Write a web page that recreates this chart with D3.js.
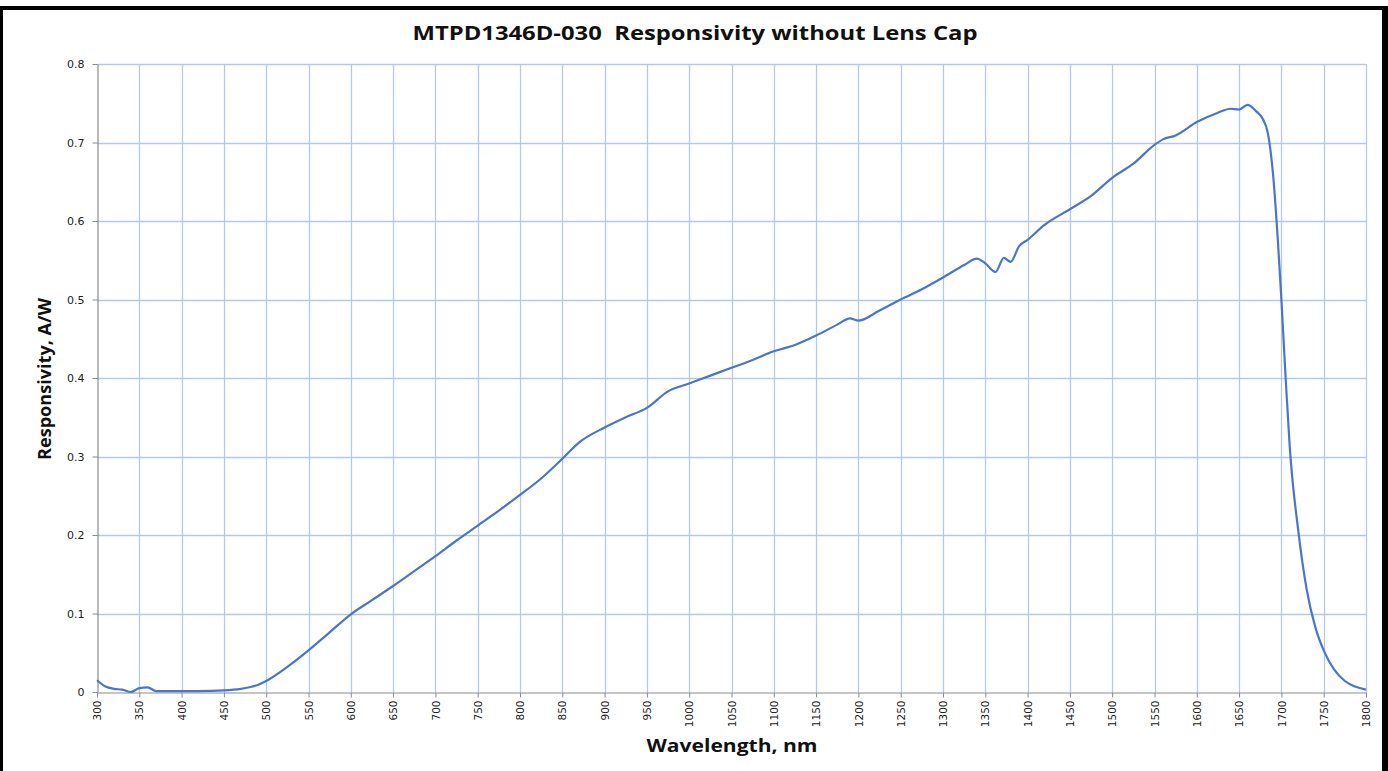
<!DOCTYPE html>
<html><head><meta charset="utf-8">
<script src="https://cdn.jsdelivr.net/npm/d3@7"></script>
<style>body{margin:0;background:#fff;}svg{display:block;}</style>
</head><body>
<svg id="c" width="1388" height="771"></svg>
<script>
const wavelength = [300,310,320,330,340,350,360,370,380,400,420,450,470,480,490,500,525,550,575,600,625,650,675,700,725,750,775,800,825,850,870,900,925,950,975,1000,1025,1050,1075,1100,1125,1150,1175,1190,1200,1225,1250,1275,1300,1325,1340,1350,1362,1372,1380,1390,1400,1420,1450,1475,1500,1525,1550,1560,1575,1600,1625,1640,1650,1660,1670,1678,1684,1690,1696,1700,1705,1710,1720,1730,1740,1750,1762,1775,1787,1800];
const responsivity = [0.015,0.007,0.004,0.003,0.000,0.005,0.006,0.001,0.001,0.001,0.001,0.002,0.004,0.006,0.009,0.014,0.032,0.053,0.076,0.099,0.117,0.135,0.154,0.173,0.193,0.212,0.231,0.251,0.272,0.297,0.318,0.337,0.350,0.362,0.383,0.393,0.403,0.413,0.423,0.434,0.442,0.454,0.468,0.476,0.473,0.486,0.500,0.513,0.528,0.544,0.552,0.546,0.535,0.553,0.548,0.568,0.576,0.595,0.615,0.632,0.655,0.673,0.697,0.704,0.709,0.726,0.738,0.743,0.742,0.748,0.740,0.730,0.712,0.661,0.572,0.50,0.40,0.31,0.205,0.130,0.083,0.053,0.029,0.014,0.007,0.003];
const xTicks = d3.range(300, 1801, 50);
const yTicks = [0,0.1,0.2,0.3,0.4,0.5,0.6,0.7,0.8];

const svg = d3.select('#c');
const L = 97, R = 1366, T = 64, B = 692;
const x = d3.scaleLinear().domain([300,1800]).range([L,R]);
const y = d3.scaleLinear().domain([0,0.8]).range([B,T]);

// frame
svg.append('rect').attr('x',0).attr('y',6).attr('width',1388).attr('height',4).attr('fill','#000');
svg.append('rect').attr('x',0).attr('y',6).attr('width',3).attr('height',771).attr('fill','#000');
svg.append('rect').attr('x',1382).attr('y',6).attr('width',6).attr('height',771).attr('fill','#000');

// grid
const grid = svg.append('g');
grid.selectAll('.vx').data(xTicks.filter(d=>d>300)).enter().append('line')
  .attr('x1',d=>Math.round(x(d))+0.5).attr('x2',d=>Math.round(x(d))+0.5).attr('y1',T).attr('y2',B)
  .attr('stroke','#b4c8ea').attr('stroke-width',1.3);
grid.selectAll('.hy').data(yTicks.filter(d=>d>0)).enter().append('line')
  .attr('x1',L).attr('x2',R).attr('y1',d=>Math.round(y(d))+0.5).attr('y2',d=>Math.round(y(d))+0.5)
  .attr('stroke','#b4c8ea').attr('stroke-width',1.3);

// axes
const xa = svg.append('g').attr('transform',`translate(0,${B+0.5})`)
  .call(d3.axisBottom(x).tickValues(xTicks).tickSize(5).tickSizeOuter(0).tickFormat(d3.format('d')));
const ya = svg.append('g').attr('transform',`translate(${L+0.5},0)`)
  .call(d3.axisLeft(y).tickValues(yTicks).tickSize(5).tickSizeOuter(0).tickFormat(d=>d===0?'0':d3.format('.1f')(d)));
[xa,ya].forEach(a=>{
  a.select('.domain').attr('stroke','#8c8c8c').attr('stroke-width',1.2);
  a.selectAll('.tick line').attr('stroke','#8c8c8c');
  a.selectAll('text').attr('fill','#222').style('font-family','"DejaVu Sans", Verdana, sans-serif').style('font-size','10.5px');
});
ya.selectAll('text').attr('x',-13).style('font-size','11px');
xa.selectAll('text').attr('transform','rotate(-90)').attr('x',-8).attr('y',0).attr('dy','0.35em').attr('text-anchor','end');

// line
const line = d3.line().x((d,i)=>x(wavelength[i])).y(d=>y(d)).curve(d3.curveMonotoneX);
svg.append('path').datum(responsivity).attr('d',line).attr('fill','none')
  .attr('stroke','#4a76c8').attr('stroke-width',2.2).attr('stroke-linejoin','round');

// titles
const tf = '"Open Sans", "Liberation Sans", sans-serif';
svg.append('text').attr('x',695).attr('y',40).attr('text-anchor','middle')
  .style('font-family',tf).style('font-weight','bold').style('font-size','20px').style('white-space','pre').attr('fill','#111')
  .attr('textLength',565).attr('lengthAdjust','spacingAndGlyphs').text('MTPD1346D-030  Responsivity without Lens Cap');
svg.append('text').attr('x',732).attr('y',752).attr('text-anchor','middle')
  .style('font-family',tf).style('font-weight','bold').style('font-size','18px').attr('fill','#111')
  .attr('textLength',171).attr('lengthAdjust','spacingAndGlyphs').text('Wavelength, nm');
svg.append('text').attr('transform','translate(51,379) rotate(-90)').attr('text-anchor','middle')
  .style('font-family',tf).style('font-weight','bold').style('font-size','18px').attr('fill','#111')
  .attr('textLength',162).attr('lengthAdjust','spacingAndGlyphs').text('Responsivity, A/W');
</script>
</body></html>
